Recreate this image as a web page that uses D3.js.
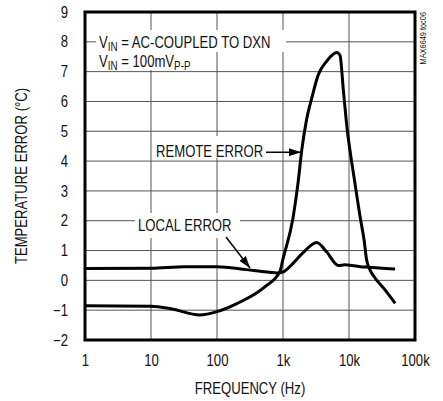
<!DOCTYPE html>
<html>
<head>
<meta charset="utf-8">
<script src="https://cdn.jsdelivr.net/npm/d3@7"></script>
<style>
  body { margin: 0; background: #fff; }
  text { font-family: "Liberation Sans", Arial, sans-serif; fill: #111; }
</style>
</head>
<body>
<div class="chart"></div>
<script>
// frequency (Hz) and temperature error (°C)
const remoteFreq = [1, 10, 20, 55, 100, 200, 530, 900, 1000, 1420, 1690, 1920, 2280, 2720, 3430, 4590, 6500, 7300, 8200, 9400, 10600, 12300, 14700, 16900, 18500, 20800, 24800, 35100, 50000];
const remoteErr = [-0.85, -0.87, -0.95, -1.16, -1.05, -0.78, -0.22, 0.3, 0.72, 2.1, 3.27, 4.35, 5.4, 6.1, 6.9, 7.35, 7.64, 7.55, 6.4, 5.05, 4.2, 3.26, 2.14, 1.36, 0.68, 0.35, 0.08, -0.32, -0.77];

const localFreq = [1, 10, 33, 100, 280, 630, 800, 1000, 1420, 2000, 3240, 4600, 6900, 8700, 11000, 15000, 20000, 50000];
const localErr = [0.4, 0.41, 0.46, 0.46, 0.36, 0.27, 0.25, 0.28, 0.57, 0.92, 1.27, 0.95, 0.5, 0.52, 0.5, 0.46, 0.44, 0.38];

const xTicks = [1, 10, 100, 1000, 10000, 100000];
const xTickLabels = ['1', '10', '100', '1k', '10k', '100k'];
const yTicks = [-2, -1, 0, 1, 2, 3, 4, 5, 6, 7, 8, 9];

const W = 443, H = 401;
const margin = {top: 12, right: 28, bottom: 61, left: 85};
const width = W - margin.left - margin.right;
const height = H - margin.top - margin.bottom;
const narrow = 0.82; // condensed look for the Helvetica-narrow text

const svg = d3.select('.chart').append('svg')
    .attr('width', W)
    .attr('height', H);

const g = svg.append('g')
    .attr('transform', `translate(${margin.left},${margin.top})`);

const x = d3.scaleLog().domain([1, 100000]).range([0, width]);
const y = d3.scaleLinear().domain([-2, 9]).range([height, 0]);

// text squeezed horizontally around its anchor point
const label = function (parent, px, py, size, anchor, rot) {
  return parent.append('text')
      .attr('transform', `translate(${px},${py})${rot ? ` rotate(${rot})` : ''} scale(${narrow},1)`)
      .attr('font-size', size)
      .attr('text-anchor', anchor || 'start');
};

// grid
g.append('g').selectAll('line').data(yTicks).join('line')
    .attr('x1', 0).attr('x2', width)
    .attr('y1', d => y(d)).attr('y2', d => y(d))
    .attr('stroke', '#555').attr('stroke-width', 1);
g.append('g').selectAll('line').data(xTicks).join('line')
    .attr('x1', d => x(d)).attr('x2', d => x(d))
    .attr('y1', 0).attr('y2', height)
    .attr('stroke', '#555').attr('stroke-width', 1);

// axes (labels only)
const yAxis = g.append('g')
    .call(d3.axisLeft(y).tickValues(yTicks).tickSize(0).tickPadding(0));
yAxis.select('.domain').remove();
yAxis.selectAll('text')
    .attr('x', 0).attr('font-size', 16).style('font-family', null)
    .attr('transform', `translate(-17,0) scale(${narrow},1)`);

const xAxis = g.append('g')
    .attr('transform', `translate(0,${height})`)
    .call(d3.axisBottom(x).tickValues(xTicks).tickSize(0).tickPadding(15)
      .tickFormat((d, i) => xTickLabels[i]));
xAxis.select('.domain').remove();
xAxis.selectAll('text')
    .attr('font-size', 16).style('font-family', null)
    .attr('transform', `scale(${narrow},1)`);

// white label boxes behind annotations
const boxes = [
  [11, 18, 190, 22],
  [11, 40, 118, 18],
  [67, 124, 114, 22],
  [50, 201, 105, 25]
];
g.selectAll('.box').data(boxes).join('rect')
    .attr('class', 'box')
    .attr('x', d => d[0]).attr('y', d => d[1])
    .attr('width', d => d[2]).attr('height', d => d[3])
    .attr('fill', '#fff');

// curves
const line = d3.line()
    .x(d => x(d[0]))
    .y(d => y(d[1]))
    .curve(d3.curveMonotoneX);

g.append('path')
    .datum(remoteFreq.map((f, i) => [f, remoteErr[i]]))
    .attr('d', line)
    .attr('fill', 'none').attr('stroke', '#000').attr('stroke-width', 3)
    .attr('stroke-linejoin', 'round');

g.append('path')
    .datum(localFreq.map((f, i) => [f, localErr[i]]))
    .attr('d', line)
    .attr('fill', 'none').attr('stroke', '#000').attr('stroke-width', 3)
    .attr('stroke-linejoin', 'round');

// border
g.append('rect')
    .attr('width', width).attr('height', height)
    .attr('fill', 'none').attr('stroke', '#000').attr('stroke-width', 3);

// annotations
const t1 = label(g, 14, 36, 16);
t1.append('tspan').text('V');
t1.append('tspan').text('IN').attr('font-size', 12).attr('dy', 3);
t1.append('tspan').text(' = AC-COUPLED TO DXN').attr('dy', -3);

const t2 = label(g, 14, 55, 16);
t2.append('tspan').text('V');
t2.append('tspan').text('IN').attr('font-size', 12).attr('dy', 3);
t2.append('tspan').text(' = 100mV').attr('dy', -3);
t2.append('tspan').text('P-P').attr('font-size', 12).attr('dy', 3);

label(g, 71, 145, 16).text('REMOTE ERROR');
label(g, 53, 219, 16).text('LOCAL ERROR');

// arrows
svg.append('defs').append('marker')
    .attr('id', 'ah')
    .attr('viewBox', '0 0 12 8')
    .attr('refX', 12).attr('refY', 4)
    .attr('markerWidth', 12).attr('markerHeight', 8)
    .attr('markerUnits', 'userSpaceOnUse')
    .attr('orient', 'auto')
  .append('path').attr('d', 'M0,0L12,4L0,8Z').attr('fill', '#000');

g.append('line')
    .attr('x1', 181).attr('y1', y(4.3)).attr('x2', 216).attr('y2', y(4.3))
    .attr('stroke', '#000').attr('stroke-width', 1.5).attr('marker-end', 'url(#ah)');
g.append('line')
    .attr('x1', 141).attr('y1', 225).attr('x2', 165).attr('y2', 256)
    .attr('stroke', '#000').attr('stroke-width', 1.5).attr('marker-end', 'url(#ah)');

// y axis title
label(svg, 27, margin.top + height / 2, 16, 'middle', -90)
    .text('TEMPERATURE ERROR (°C)');

// x axis title
label(svg, margin.left + width / 2, 394, 16, 'middle')
    .text('FREQUENCY (Hz)');

// figure id
label(svg, 426, 12, 9, 'end', -90)
    .text('MAX6649 toc06');
</script>
</body>
</html>
